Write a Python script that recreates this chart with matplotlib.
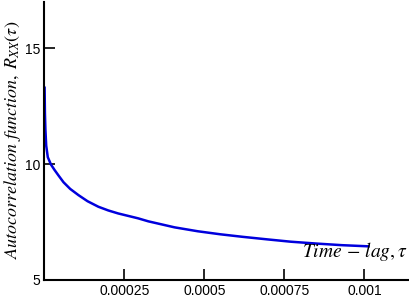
import matplotlib
matplotlib.use("Agg")
import matplotlib.pyplot as plt

# values
tau = [1e-6, 2e-6, 3.5e-6, 6e-6, 1.1e-5, 2.1e-5, 3.2e-5, 4.5e-5, 6e-5, 8.1e-5,
       1.07e-4, 1.35e-4, 1.69e-4, 2.0e-4, 2.31e-4, 2.93e-4, 3.25e-4, 4.07e-4,
       4.8e-4, 5.5e-4, 6.2e-4, 6.97e-4, 7.7e-4, 8.5e-4, 9.3e-4, 1.013e-3]
rxx = [13.3, 12.2, 11.5, 10.8, 10.3, 9.98, 9.75, 9.5, 9.22, 8.93,
       8.66, 8.4, 8.16, 8.0, 7.87, 7.66, 7.53, 7.27,
       7.1, 6.97, 6.86, 6.75, 6.65, 6.57, 6.5, 6.45]
xticks = [0.00025, 0.0005, 0.00075, 0.001]
xticklabels = ["0.00025", "0.0005", "0.00075", "0.001"]
yticks = [5, 10, 15]

plt.rcParams["font.family"] = "Liberation Sans"
plt.rcParams["mathtext.fontset"] = "stix"

fig = plt.figure(figsize=(4.1, 3.0), dpi=100)
ax = fig.add_axes([0.108, 0.067, 0.89, 0.926])

ax.plot(tau, rxx, color="#0000dd", lw=1.8, solid_joinstyle="round")

ax.set_xlim(0, 0.00114)
ax.set_ylim(5, 17)
ax.set_xticks(xticks)
ax.set_xticklabels(xticklabels)
ax.set_yticks(yticks)
ax.tick_params(direction="in", length=8, width=1.2, labelsize=10)
ax.tick_params(axis="x", pad=3)
ax.tick_params(axis="y", pad=3)

for s in ["top", "right"]:
    ax.spines[s].set_visible(False)
for s in ["left", "bottom"]:
    ax.spines[s].set_linewidth(1.5)

# y label placed by hand so it sits fully inside the figure
fig.text(0.03, 0.533, r"$Autocorrelation\ function,\ R_{XX}(\tau)$",
         rotation=90, ha="center", va="center", fontsize=13)
ax.text(0.997, 0.06, r"$Time\,-\,lag,\tau$", transform=ax.transAxes,
        ha="right", va="bottom", fontsize=14)

fig.savefig("out.png", dpi=100)
